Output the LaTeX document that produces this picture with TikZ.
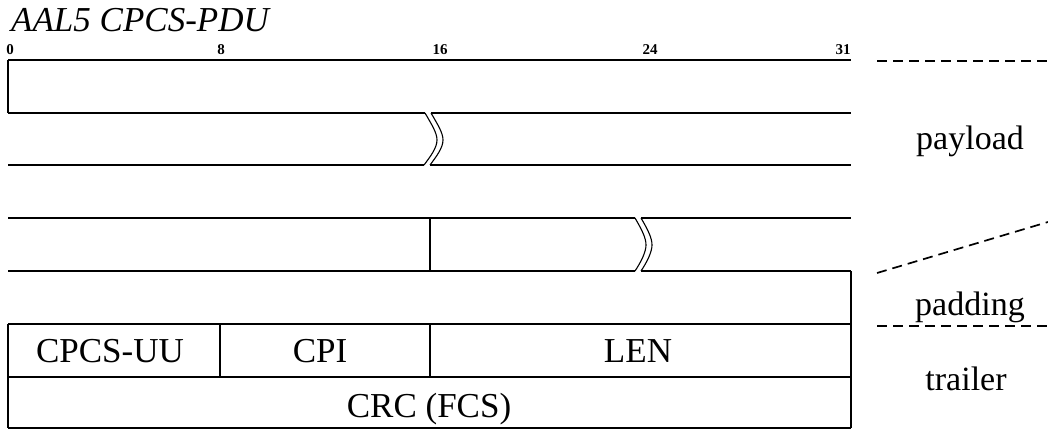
\documentclass[tikz,border=0pt]{standalone}
\usepackage{fontspec}
\setmainfont{Liberation Serif}
\begin{document}
\begin{tikzpicture}[x=1pt,y=-1pt,
  rule/.style={line width=1.3pt},
  brk/.style={line width=1.1pt},
  bracket/.style={line width=1.7pt, dash pattern=on 10pt off 6pt},
  field/.style={font=\fontsize{35}{35}\selectfont, inner sep=0pt, anchor=base},
  side/.style={font=\fontsize{34}{34}\selectfont, inner sep=0pt, anchor=base},
  bitlbl/.style={font=\bfseries\fontsize{15}{15}\selectfont, inner sep=0pt, anchor=base},
  ]
\useasboundingbox (0,0) rectangle (1048,430);
% title and bit numbers
\node[anchor=base west, font=\itshape\fontsize{35}{35}\selectfont, inner sep=0pt] (title) at (11,32) {AAL5 CPCS-PDU};
\node[bitlbl] (b0) at (10,55) {0};
\node[bitlbl] (b8) at (221,55) {8};
\node[bitlbl] (b16) at (440,55) {16};
\node[bitlbl] (b24) at (650,55) {24};
\node[bitlbl] (b31) at (843,55) {31};
% frame lines
\draw[rule] (8,60) -- (851,60);
\draw[rule] (8,60) -- (8,113);
\draw[rule] (8,113) -- (425,113);
\draw[rule] (431,113) -- (851,113);
\draw[rule] (8,165) -- (424,165);
\draw[rule] (430,165) -- (851,165);
\draw[rule] (8,218) -- (635,218);
\draw[rule] (641,218) -- (851,218);
\draw[rule] (430,218) -- (430,271);
\draw[rule] (8,271) -- (635,271);
\draw[rule] (641,271) -- (851,271);
\draw[rule] (851,271) -- (851,428);
\draw[rule] (8,324) -- (851,324);
\draw[rule] (8,377) -- (851,377);
\draw[rule] (8,428) -- (851,428);
\draw[rule] (8,324) -- (8,428);
\draw[rule] (220,324) -- (220,377);
\draw[rule] (430,324) -- (430,377);
% break marks
\draw[brk] (425,113) .. controls (432,125) and (437,133) .. (437,140) .. controls (437,148) and (430,157) .. (424,165);
\draw[brk] (431,113) .. controls (438,125) and (443,133) .. (443,140) .. controls (443,148) and (436,157) .. (430,165);
\draw[brk] (635,218) .. controls (642,230) and (646,238) .. (646,245) .. controls (646,252) and (641,262) .. (635,271);
\draw[brk] (641,218) .. controls (648,230) and (652,238) .. (652,245) .. controls (652,252) and (647,262) .. (641,271);
% field labels
\node[field] (uu) at (110,362) {CPCS-UU};
\node[field] (cpi) at (320,362) {CPI};
\node[field] (len) at (638,362) {LEN};
\node[field] (crc) at (429,417) {CRC (FCS)};
% side labels and dashed separators
\coordinate (d1a) at (877,61);
\coordinate (d1b) at (1048,61);
\coordinate (d2a) at (877,273);
\coordinate (d2b) at (1048,222);
\coordinate (d3a) at (877,326);
\coordinate (d3b) at (1048,326);
\draw[bracket] (d1a) -- (d1b);
\draw[bracket] (d2a) -- (d2b);
\draw[bracket] (d3a) -- (d3b);
\node[side] (payload) at (970,150) {payload};
\node[side] (padding) at (970,315) {padding};
\node[side] (trailer) at (966,390) {trailer};
\end{tikzpicture}
\end{document}
